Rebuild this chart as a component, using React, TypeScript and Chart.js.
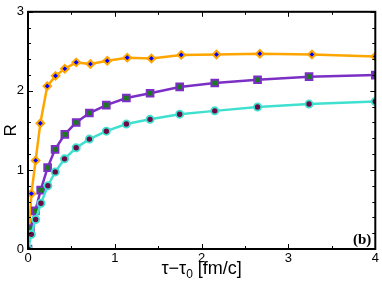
import React, { useEffect, useRef } from "react";
import { Chart, registerables } from "chart.js";

Chart.register(...registerables);

const orangeX = [0, 0.039, 0.088, 0.142, 0.222, 0.317, 0.424, 0.555, 0.719, 0.913, 1.143, 1.421, 1.765, 2.171, 2.67, 3.27, 4.0];
const orangeY = [0.0, 0.7, 1.12, 1.59, 2.06, 2.19, 2.28, 2.36, 2.34, 2.38, 2.42, 2.41, 2.455, 2.46, 2.47, 2.46, 2.435];

const purpleX = [0, 0.028, 0.085, 0.146, 0.226, 0.312, 0.424, 0.555, 0.707, 0.902, 1.133, 1.406, 1.747, 2.151, 2.644, 3.237, 4.0];
const purpleY = [0.0, 0.256, 0.483, 0.745, 1.03, 1.26, 1.45, 1.6, 1.72, 1.82, 1.91, 1.97, 2.05, 2.1, 2.14, 2.18, 2.2];

const cyanX = [0, 0.039, 0.088, 0.149, 0.229, 0.314, 0.421, 0.555, 0.707, 0.902, 1.133, 1.406, 1.747, 2.151, 2.644, 3.237, 4.0];
const cyanY = [0.0, 0.185, 0.373, 0.578, 0.8, 0.975, 1.14, 1.28, 1.39, 1.49, 1.58, 1.64, 1.705, 1.747, 1.796, 1.833, 1.865];

const xMajorTicks = [0, 1, 2, 3, 4];
const xMinorTicks = [0.5, 1.5, 2.5, 3.5];
const yMajorTicks = [0, 1, 2, 3];
const yMinorTicks = [0.2, 0.4, 0.6, 0.8, 1.2, 1.4, 1.6, 1.8, 2.2, 2.4, 2.6, 2.8];

const FONT = "'Liberation Sans', Arial, sans-serif";

function pts(xs: number[], ys: number[]) {
  return xs.map((x, i) => ({ x, y: ys[i] }));
}

const framePlugin = {
  id: "frameTicks",
  afterDraw(chart: any) {
    const { ctx, chartArea: a, scales } = chart;
    const xs = scales.x;
    const ys = scales.y;
    ctx.save();
    ctx.strokeStyle = "#000";
    ctx.lineWidth = 1;
    const tick = (x1: number, y1: number, x2: number, y2: number) => {
      ctx.beginPath();
      ctx.moveTo(x1, y1);
      ctx.lineTo(x2, y2);
      ctx.stroke();
    };
    xMajorTicks.forEach((v) => {
      const p = Math.round(xs.getPixelForValue(v)) + 0.5;
      tick(p, a.bottom, p, a.bottom - 5);
      tick(p, a.top, p, a.top + 5);
    });
    xMinorTicks.forEach((v) => {
      const p = Math.round(xs.getPixelForValue(v)) + 0.5;
      tick(p, a.bottom, p, a.bottom - 3);
      tick(p, a.top, p, a.top + 3);
    });
    yMajorTicks.forEach((v) => {
      const p = Math.round(ys.getPixelForValue(v)) + 0.5;
      tick(a.left, p, a.left + 5, p);
      tick(a.right, p, a.right - 5, p);
    });
    yMinorTicks.forEach((v) => {
      const p = Math.round(ys.getPixelForValue(v)) + 0.5;
      tick(a.left, p, a.left + 3, p);
      tick(a.right, p, a.right - 3, p);
    });
    ctx.lineWidth = 2;
    ctx.strokeRect(a.left, a.top, a.right - a.left, a.bottom - a.top);

    // x axis title with subscript
    ctx.fillStyle = "#000";
    ctx.textBaseline = "alphabetic";
    const cx = (a.left + a.right) / 2;
    const base = 274;
    const p1 = "τ−τ";
    const p3 = " [fm/c]";
    ctx.font = `18px ${FONT}`;
    const w1 = ctx.measureText(p1).width;
    const w3 = ctx.measureText(p3).width;
    ctx.font = `12px ${FONT}`;
    const w2 = ctx.measureText("0").width;
    const x0 = cx - (w1 + w2 + w3) / 2;
    ctx.textAlign = "left";
    ctx.font = `18px ${FONT}`;
    ctx.fillText(p1, x0, base);
    ctx.font = `12px ${FONT}`;
    ctx.fillText("0", x0 + w1, base + 4);
    ctx.font = `18px ${FONT}`;
    ctx.fillText(p3, x0 + w1 + w2, base);

    // y title
    ctx.save();
    ctx.translate(16, (a.top + a.bottom) / 2);
    ctx.rotate(-Math.PI / 2);
    ctx.textAlign = "center";
    ctx.font = `17px ${FONT}`;
    ctx.fillText("R", 0, 0);
    ctx.restore();

    // panel label
    ctx.font = `bold 15px 'Liberation Serif', 'Times New Roman', serif`;
    ctx.textAlign = "right";
    ctx.fillText("(b)", a.right - 4, a.bottom - 5);
    ctx.restore();
  },
};

export default function App() {
  const ref = useRef<HTMLCanvasElement>(null);
  useEffect(() => {
    document.body.style.margin = "0";
    const chart = new Chart(ref.current!, {
      type: "scatter",
      data: {
        datasets: [
          {
            data: pts(cyanX, cyanY),
            showLine: true,
            borderColor: "#40E0D0",
            borderWidth: 2.5,
            pointStyle: "circle",
            pointRadius: 3.6,
            pointBorderWidth: 1.8,
            pointBorderColor: "#40E0D0",
            pointBackgroundColor: "#6B0A45",
            clip: 0,
          },
          {
            data: pts(purpleX, purpleY),
            showLine: true,
            borderColor: "#7B2FC4",
            borderWidth: 2.5,
            pointStyle: "rect",
            pointRadius: 4.7,
            pointBorderWidth: 2,
            pointBorderColor: "#7B2FC4",
            pointBackgroundColor: "#1B7A1B",
            clip: 0,
          },
          {
            data: pts(orangeX, orangeY),
            showLine: true,
            borderColor: "#FFA500",
            borderWidth: 2.5,
            pointStyle: "rectRot",
            pointRadius: 3.8,
            pointBorderWidth: 2,
            pointBorderColor: "#FFA500",
            pointBackgroundColor: "#0000FF",
            clip: 0,
          },
        ] as any,
      },
      options: {
        responsive: false,
        animation: false,
        layout: { padding: { top: 5, right: 5, left: 0, bottom: 0 } },
        plugins: { legend: { display: false }, tooltip: { enabled: false } },
        scales: {
          x: {
            type: "linear",
            min: 0,
            max: 4,
            grid: { display: false, drawTicks: false },
            border: { display: false },
            afterFit: (s: any) => {
              s.height = 40;
            },
            ticks: {
              stepSize: 1,
              padding: 2,
              color: "#000",
              font: { family: FONT, size: 13 },
              maxRotation: 0,
            },
          },
          y: {
            type: "linear",
            min: 0,
            max: 3,
            grid: { display: false, drawTicks: false },
            border: { display: false },
            afterFit: (s: any) => {
              s.width = 28;
            },
            ticks: {
              stepSize: 1,
              padding: 4,
              color: "#000",
              font: { family: FONT, size: 13 },
            },
          },
        },
      },
      plugins: [framePlugin],
    });
    return () => chart.destroy();
  }, []);
  return <canvas ref={ref} width={382} height={289} />;
}
